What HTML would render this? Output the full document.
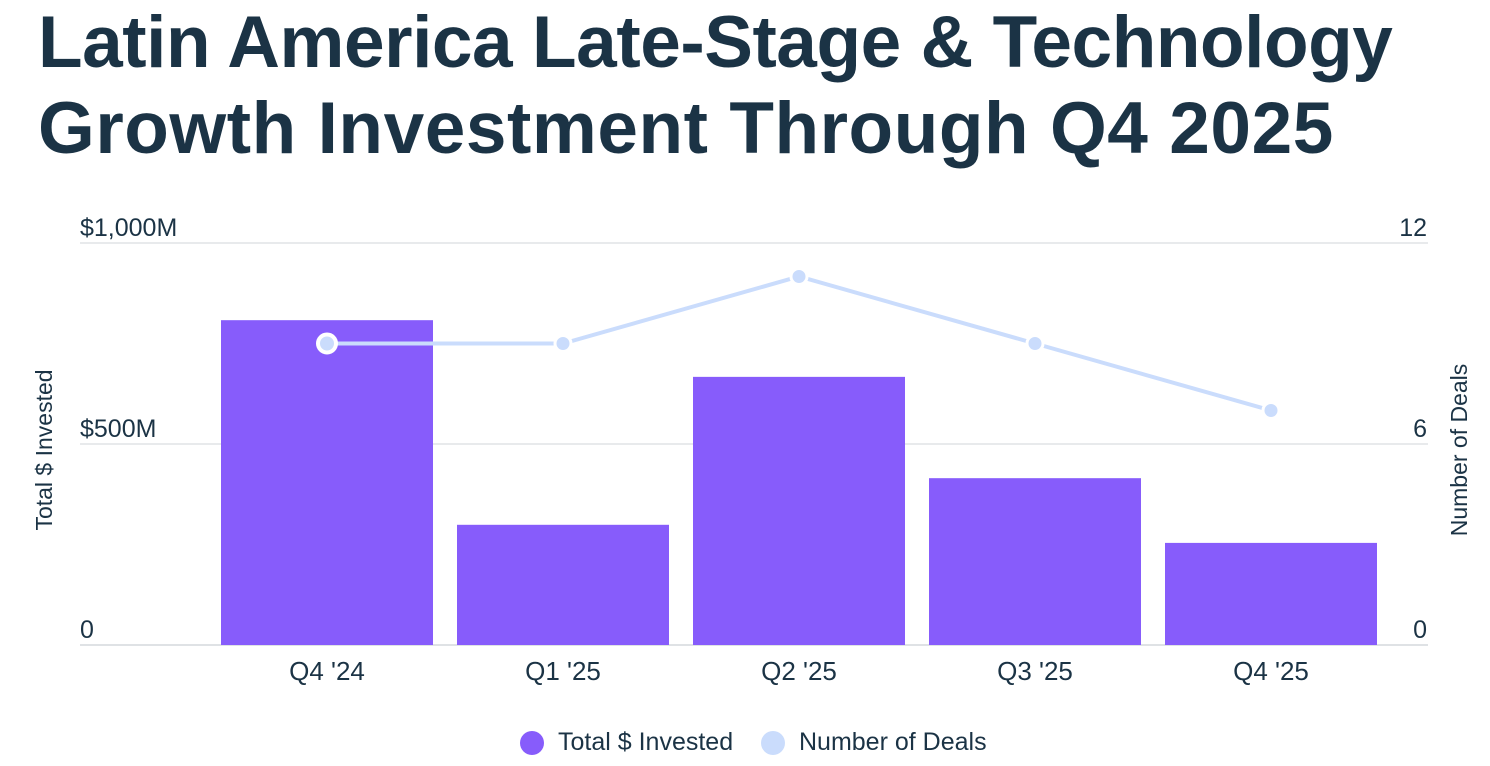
<!DOCTYPE html>
<html><head><meta charset="utf-8">
<style>
html,body{margin:0;padding:0;background:#fff;width:1490px;height:766px;overflow:hidden;font-family:"Liberation Sans",sans-serif;}
h1{position:absolute;left:38px;top:0;margin:0;font-size:73px;line-height:86px;font-weight:bold;color:#1b3345;letter-spacing:-0.45px;}
svg{position:absolute;left:0;top:0;}
</style></head><body>
<h1>Latin America Late-Stage &amp; Technology<br><span style="letter-spacing:0.55px">Growth Investment Through Q4 2025</span></h1>
<svg id="c" width="1490" height="766"></svg>
<script>
const categories=["Q4 '24","Q1 '25","Q2 '25","Q3 '25","Q4 '25"];
const invested=[808,299,667,415,254];
const deals=[9,9,11,9,7];
const leftTicks=[0,500,1000];
const leftTickLabels=["0","$500M","$1,000M"];
const rightTicks=[0,6,12];
const rightTickLabels=["0","6","12"];
const NS="http://www.w3.org/2000/svg";
const svg=document.getElementById('c');
const y0=645,y1=243,xStart=209,band=236,barW=212;
const yL=v=>y0-(v/1000)*(y0-y1);
const yR=v=>y0-(v/12)*(y0-y1);
const xC=i=>xStart+band*i+band/2;
function mk(t,a){const e=document.createElementNS(NS,t);for(const k in a)e.setAttribute(k,a[k]);svg.appendChild(e);return e;}
leftTicks.forEach((t,i)=>{
 const g=mk('line',{x1:80,x2:1428,y1:yL(t),y2:yL(t),stroke:i==0?'#dfe2e5':'#e8eaec','stroke-width':2});
 
 
 const l=mk('text',{x:80,y:yL(t)-7,'font-size':25,fill:'#1b3345'});l.textContent=leftTickLabels[i];
 
 
});
rightTicks.forEach((t,i)=>{
 const l=mk('text',{x:1427,y:yR(t)-7,'font-size':25,fill:'#1b3345','text-anchor':'end'});l.textContent=rightTickLabels[i];
 
 
});
invested.forEach((v,i)=>{
 const r=mk('rect',{x:xC(i)-barW/2,y:yL(v),width:barW,height:y0-yL(v),fill:'#875cfb'});
 
 
 const l=mk('text',{x:xC(i),y:680,'font-size':26,fill:'#1b3345','text-anchor':'middle'});l.textContent=categories[i];
 
 
});
const pl=mk('polyline',{points:deals.map((d,i)=>xC(i)+','+yR(d)).join(' '),fill:'none',stroke:'#cadcfc','stroke-width':4});


deals.forEach((d,i)=>{
 const c=mk('circle',{cx:xC(i),cy:yR(d),r:i==0?9:8,fill:'#cadcfc',stroke:'#fff','stroke-width':i==0?4:3});
 
 
});
const at=mk('text',{x:0,y:0,'font-size':23,fill:'#1b3345','text-anchor':'middle',transform:'translate(52,450) rotate(-90)'});at.textContent='Total $ Invested';


const rt=mk('text',{x:0,y:0,'font-size':23,fill:'#1b3345','text-anchor':'middle',transform:'translate(1467,450) rotate(-90)'});rt.textContent='Number of Deals';


const lc1=mk('circle',{cx:532,cy:743,r:12,fill:'#875cfb'});


const lt1=mk('text',{x:558,y:750,'font-size':25,fill:'#1b3345'});lt1.textContent='Total $ Invested';


const lc2=mk('circle',{cx:773,cy:743,r:12,fill:'#cadcfc'});


const lt2=mk('text',{x:799,y:750,'font-size':25,fill:'#1b3345'});lt2.textContent='Number of Deals';


</script>
</body></html>
